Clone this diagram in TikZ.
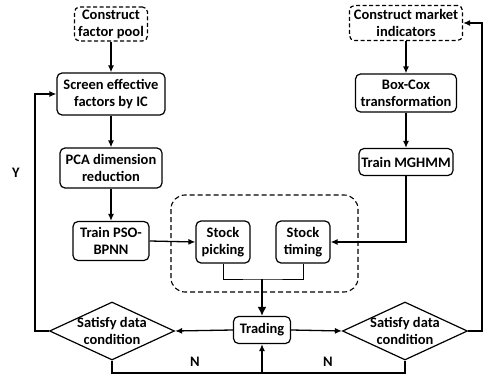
\documentclass[tikz,border=0pt]{standalone}
\usepackage{fontspec}
\setmainfont{Carlito}
\usetikzlibrary{shapes.geometric,arrows.meta}

\tikzset{
  every node/.style={font=\fontsize{14.5}{17}\selectfont\bfseries},
  box/.style={draw, rounded corners=5pt, line width=1.2pt, align=center, inner sep=1pt},
  dashbox/.style={box, dash pattern=on 4pt off 2.5pt},
  dec/.style={draw, diamond, line width=1.2pt, inner sep=0pt, minimum width=125pt, minimum height=58pt},
  arr/.style={-{Latex[length=7pt,width=6pt]}, line width=1.3pt},
  bigarr/.style={-{Latex[length=9pt,width=9pt]}, line width=2.4pt},
}

\begin{document}
\begin{tikzpicture}[x=1pt,y=-1pt]
\useasboundingbox (0,0) rectangle (497,379);

% left column
\node[dashbox, minimum width=73pt, minimum height=34pt] (pool) at (111,24) {Construct\\factor pool};
\node[box, minimum width=108pt, minimum height=42pt] (screen) at (111,94) {Screen effective\\factors by IC};
\node[box, minimum width=102pt, minimum height=40pt] (pca) at (111,168) {PCA dimension\\reduction};
\node[box, minimum width=76pt, minimum height=39pt] (pso) at (111,241) {Train PSO-\\BPNN};

% right column
\node[dashbox, minimum width=113pt, minimum height=35pt] (mkt) at (406,23) {Construct market\\indicators};
\node[box, minimum width=101pt, minimum height=38pt] (boxcox) at (406,93) {Box-Cox\\transformation};
\node[box, minimum width=94pt, minimum height=27pt] (hmm) at (406,162) {Train MGHMM};

% middle
\draw[line width=1.1pt, dash pattern=on 5pt off 3pt, rounded corners=14pt] (171,195) rectangle (358,292);
\node[box, minimum width=54pt, minimum height=42pt] (pick) at (223,242) {Stock\\picking};
\node[box, minimum width=54pt, minimum height=42pt] (tim) at (303,242) {Stock\\timing};
\node[box, minimum width=57pt, minimum height=27pt] (trade) at (262,330) {Trading};

\node[dec] (ldec) at (112,331) {};
\node[align=center] (ltxt) at (ldec) {Satisfy data\\condition};
\node[dec] (rdec) at (405,331) {};
\node[align=center] (rtxt) at (rdec) {Satisfy data\\condition};

\coordinate (junc) at (262,279);
\coordinate (bot) at (262,373);

\draw[arr] (pool) -- (screen);
\draw[arr] (screen) -- (pca);
\draw[arr] (pca) -- (pso);
\draw[arr] (mkt) -- (boxcox);
\draw[arr] (boxcox) -- (hmm);
\draw[arr] (pso.east) -- (pick.west);
\draw[arr] (hmm.south) |- (tim.east);

\draw[line width=0.8pt] (pick.south) |- (junc) -| (tim.south);
\draw[bigarr] (junc) -- (trade.north);

\draw[arr] (trade.west) -- (ldec.east);
\draw[arr] (trade.east) -- (rdec.west);
\draw[arr] (ldec.west) -- ++(-14,0) |- (screen.west);
\draw[arr] (rdec.east) -- ++(14,0) |- (mkt.east);
\draw[line width=1.3pt] (ldec.south) |- (bot) -| (rdec.south);
\draw[arr] (bot) -- (trade.south);

\node (y) at (16,173) {Y};
\node (nl) at (195,362) {N};
\node (nr) at (328,362) {N};

\end{tikzpicture}
\end{document}
